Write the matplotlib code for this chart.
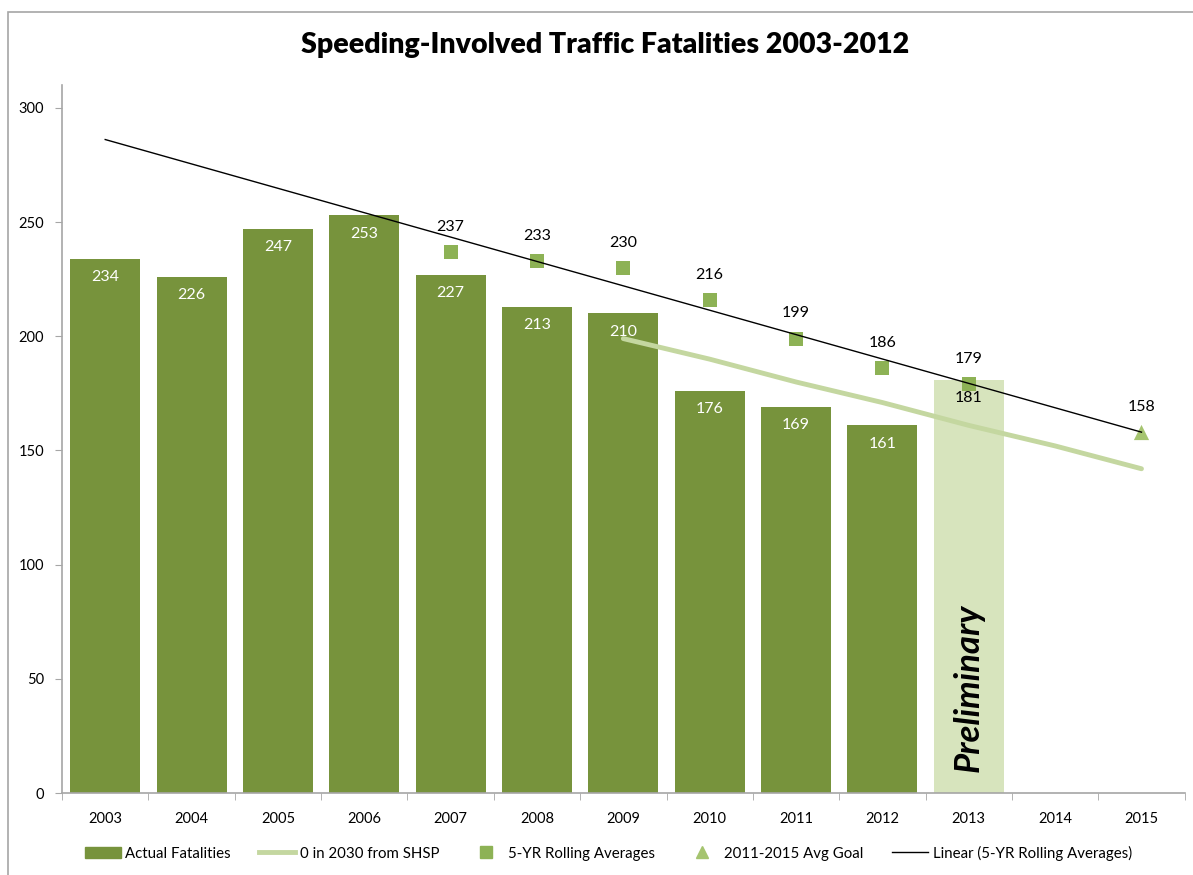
import matplotlib.pyplot as plt
import numpy as np
from matplotlib.patches import Rectangle
from matplotlib.lines import Line2D

plt.rcParams['font.family'] = ['Lato', 'DejaVu Sans']

years = ['2003', '2004', '2005', '2006', '2007', '2008', '2009',
         '2010', '2011', '2012', '2013', '2014', '2015']
actual = [234, 226, 247, 253, 227, 213, 210, 176, 169, 161]
prelim_year = '2013'
prelim_value = 181
rolling_years = ['2007', '2008', '2009', '2010', '2011', '2012', '2013']
rolling_avg = [237, 233, 230, 216, 199, 186, 179]
shsp_years = ['2009', '2010', '2011', '2012', '2013', '2014', '2015']
shsp_values = [199, 190, 180, 171, 161, 152, 142]
goal_year = '2015'
goal_value = 158

dark_green = '#77933C'
light_green = '#D7E4BD'
square_green = '#8DB255'
shsp_green = '#C4D7A0'
tri_green = '#A5C46F'
grey = '#A6A6A6'

idx = {y: i for i, y in enumerate(years)}

fig = plt.figure(figsize=(11.93, 8.75), dpi=100)
ax = fig.add_axes([0.052, 0.0937, 0.941, 0.809])

# outer chart border
fig.patches.append(Rectangle((8 / 1193, -0.01), 1.1, 1 - 12 / 875 + 0.01,
                             transform=fig.transFigure, fill=False,
                             edgecolor=grey, linewidth=1.2))

x_act = [idx[y] for y in years[:len(actual)]]
ax.bar(x_act, actual, width=0.81, color=dark_green, zorder=2)
ax.bar(idx[prelim_year], prelim_value, width=0.81, color=light_green, zorder=2)

for x, v in zip(x_act, actual):
    ax.text(x, v - 8, str(v), ha='center', va='center', color='white', fontsize=11.5, zorder=5)
ax.text(idx[prelim_year], prelim_value - 8, str(prelim_value), ha='center', va='center',
        color='black', fontsize=11.5, zorder=5)

# SHSP line
ax.plot([idx[y] for y in shsp_years], shsp_values, color=shsp_green, linewidth=3.5,
        zorder=3, solid_capstyle='round')

# rolling averages
xr = np.array([idx[y] for y in rolling_years])
ax.scatter(xr, rolling_avg, marker='s', s=110, color=square_green, zorder=4, linewidths=0)
for x, v in zip(xr, rolling_avg):
    ax.text(x, v + 11, str(v), ha='center', va='center', color='black', fontsize=11.5, zorder=5)

# goal
ax.scatter([idx[goal_year]], [goal_value], marker='^', s=120, color=tri_green, zorder=4,
           linewidths=0)
ax.text(idx[goal_year], goal_value + 11, str(goal_value), ha='center', va='center',
        color='black', fontsize=11.5, zorder=5)

# linear trend of rolling averages
m, b = np.polyfit(xr, rolling_avg, 1)
xt = np.array([0, len(years) - 1])
ax.plot(xt, m * xt + b, color='black', linewidth=1, zorder=4)

ax.text(idx[prelim_year], 46, 'Preliminary', rotation=90, ha='center', va='center',
        fontsize=25, fontweight='bold', fontstyle='italic', zorder=5)

ax.set_xlim(-0.5, len(years) - 0.5)
ax.set_ylim(0, 310)
ax.set_yticks(range(0, 301, 50))
ax.set_xticks(range(len(years)))
ax.set_xticklabels(years)
ax.set_xticks(np.arange(-0.5, len(years), 1), minor=True)
ax.tick_params(axis='x', which='major', length=0, pad=14, labelsize=10.5)
ax.tick_params(axis='x', which='minor', length=5, color=grey)
ax.tick_params(axis='y', length=5, color=grey, labelsize=10.5, pad=8)
for s in ['top', 'right']:
    ax.spines[s].set_visible(False)
for s in ['left', 'bottom']:
    ax.spines[s].set_color(grey)
    ax.spines[s].set_linewidth(1.2)

fig.text(0.507, 0.948, 'Speeding-Involved Traffic Fatalities 2003-2012', ha='center',
         va='center', fontsize=20.5, fontweight='heavy')

handles = [
    Rectangle((0, 0), 1, 1, color=dark_green),
    Line2D([], [], color=shsp_green, linewidth=3.5),
    Line2D([], [], marker='s', linestyle='none', color=square_green, markersize=9),
    Line2D([], [], marker='^', linestyle='none', color=tri_green, markersize=9),
    Line2D([], [], color='black', linewidth=1),
]
labels = ['Actual Fatalities', '0 in 2030 from SHSP', '5-YR Rolling Averages',
          '2011-2015 Avg Goal', 'Linear (5-YR Rolling Averages)']
fig.legend(handles, labels, loc='center', bbox_to_anchor=(0.51, 0.025), ncol=5,
           frameon=False, fontsize=10.8, handlelength=2.4, handletextpad=0.3,
           columnspacing=1.9)

fig.savefig('out.png', dpi=100)
